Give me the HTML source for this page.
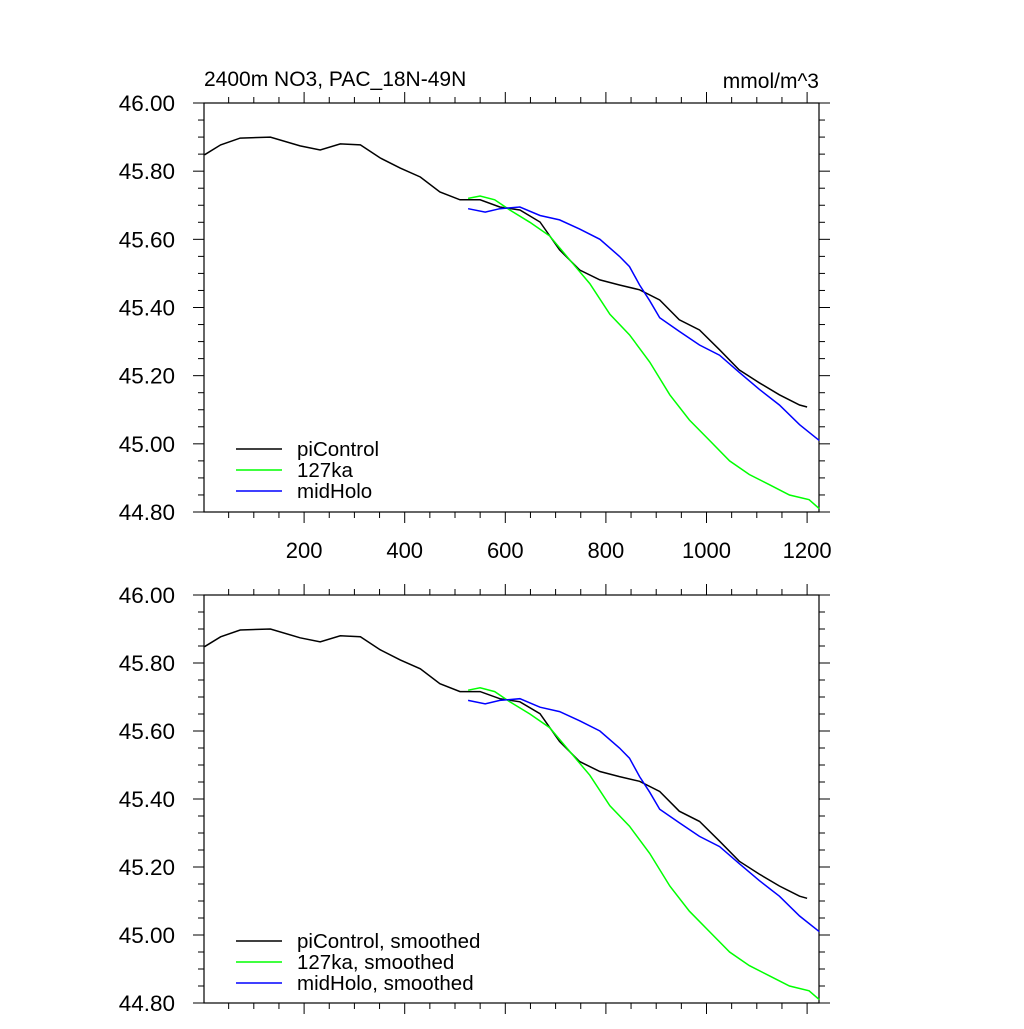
<!DOCTYPE html>
<html><head><meta charset="utf-8"><style>
body{margin:0;background:#fff;}
svg text{font-family:"Liberation Sans",sans-serif;}
</style></head><body>
<svg id="c" width="1024" height="1024" xmlns="http://www.w3.org/2000/svg"></svg>
<script>
const piX=[2,34,73,133,192,232,272,312,351,391,431,470,510,550,589,629,669,708,748,788,827,867,907,946,986,1026,1065,1105,1145,1185,1200];
const piY=[45.848,45.877,45.897,45.900,45.874,45.862,45.880,45.877,45.839,45.809,45.783,45.739,45.716,45.716,45.695,45.686,45.651,45.569,45.510,45.481,45.466,45.452,45.422,45.364,45.334,45.276,45.217,45.179,45.144,45.114,45.108];
const kaX=[526,550,579,609,649,688,728,768,808,847,887,927,966,1006,1046,1085,1125,1165,1204,1224];
const kaY=[45.72,45.727,45.716,45.686,45.65,45.61,45.54,45.47,45.38,45.32,45.24,45.144,45.07,45.01,44.95,44.91,44.88,44.85,44.836,44.81];
const mhX=[526,560,589,629,669,708,748,788,827,847,867,887,907,946,986,1026,1065,1105,1145,1185,1224];
const mhY=[45.69,45.68,45.69,45.695,45.67,45.657,45.63,45.60,45.55,45.52,45.466,45.42,45.37,45.33,45.29,45.26,45.21,45.16,45.114,45.056,45.01];
const xTicks=[200,400,600,800,1000,1200];
const yTicks=[46.0,45.8,45.6,45.4,45.2,45.0,44.8];
const svg=document.getElementById('c');const NS='http://www.w3.org/2000/svg';
function el(t,a,p){const e=document.createElementNS(NS,t);for(const k in a)e.setAttribute(k,a[k]);(p||svg).appendChild(e);return e;}
const L=204,R=819;
function xs(v){return 203.5+v*0.503;}
function panel(top,bot,name,xlabels,legendNames,legY){
  const g=el('g',{});
  
  
  const ys=v=>top+(46-v)/1.2*(bot-top);
  const fr=el('rect',{x:L,y:top,width:R-L,height:bot-top,fill:'none',stroke:'#000','stroke-width':1.2},g);
  
  
  for(let v=50;v<=1200;v+=50){const major=v%200==0;const len=major?11:6;const x=xs(v);
    el('line',{x1:x,x2:x,y1:bot,y2:bot+len,stroke:'#000','stroke-width':1},g);
    el('line',{x1:x,x2:x,y1:top,y2:top-len,stroke:'#000','stroke-width':1},g);}
  for(let i=0;i<=24;i++){const v=44.8+i*0.05;const major=i%4==0;const len=major?11:6;const y=ys(v);
    el('line',{x1:L,x2:L-len,y1:y,y2:y,stroke:'#000','stroke-width':1},g);
    el('line',{x1:R,x2:R+len,y1:y,y2:y,stroke:'#000','stroke-width':1},g);}
  yTicks.forEach(v=>{const t=el('text',{x:175,y:ys(v)+8,'font-size':22.5,'text-anchor':'end'},g);t.textContent=v.toFixed(2);
    
    });
  if(xlabels)xTicks.forEach(v=>{const t=el('text',{x:xs(v),y:bot+46,'font-size':22,'text-anchor':'middle'},g);t.textContent=v;
    
    });
  const series=[[piX,piY,'#000'],[kaX,kaY,'#00ff00'],[mhX,mhY,'#0000ff']];
  series.forEach((s,i)=>{const d=s[0].map((x,j)=>(j?'L':'M')+xs(x).toFixed(1)+','+ys(s[1][j]).toFixed(1)).join('');
    const p=el('path',{d:d,fill:'none',stroke:s[2],'stroke-width':1.5},g);
    
    
    const ly=legY+i*21;
    el('line',{x1:236,x2:282,y1:ly,y2:ly,stroke:s[2],'stroke-width':1.5},g);
    const t=el('text',{x:297,y:ly+7,'font-size':20.5},g);t.textContent=legendNames[i];
    
    });
}
panel(103,512,'top-panel',true,['piControl','127ka','midHolo'],449);
panel(595,1003,'bottom-panel',false,['piControl, smoothed','127ka, smoothed','midHolo, smoothed'],941);
let t=el('text',{x:204,y:86,'font-size':21});t.textContent='2400m NO3, PAC_18N-49N';


t=el('text',{x:819,y:88,'font-size':21,'text-anchor':'end'});t.textContent='mmol/m^3';


</script>
</body></html>
